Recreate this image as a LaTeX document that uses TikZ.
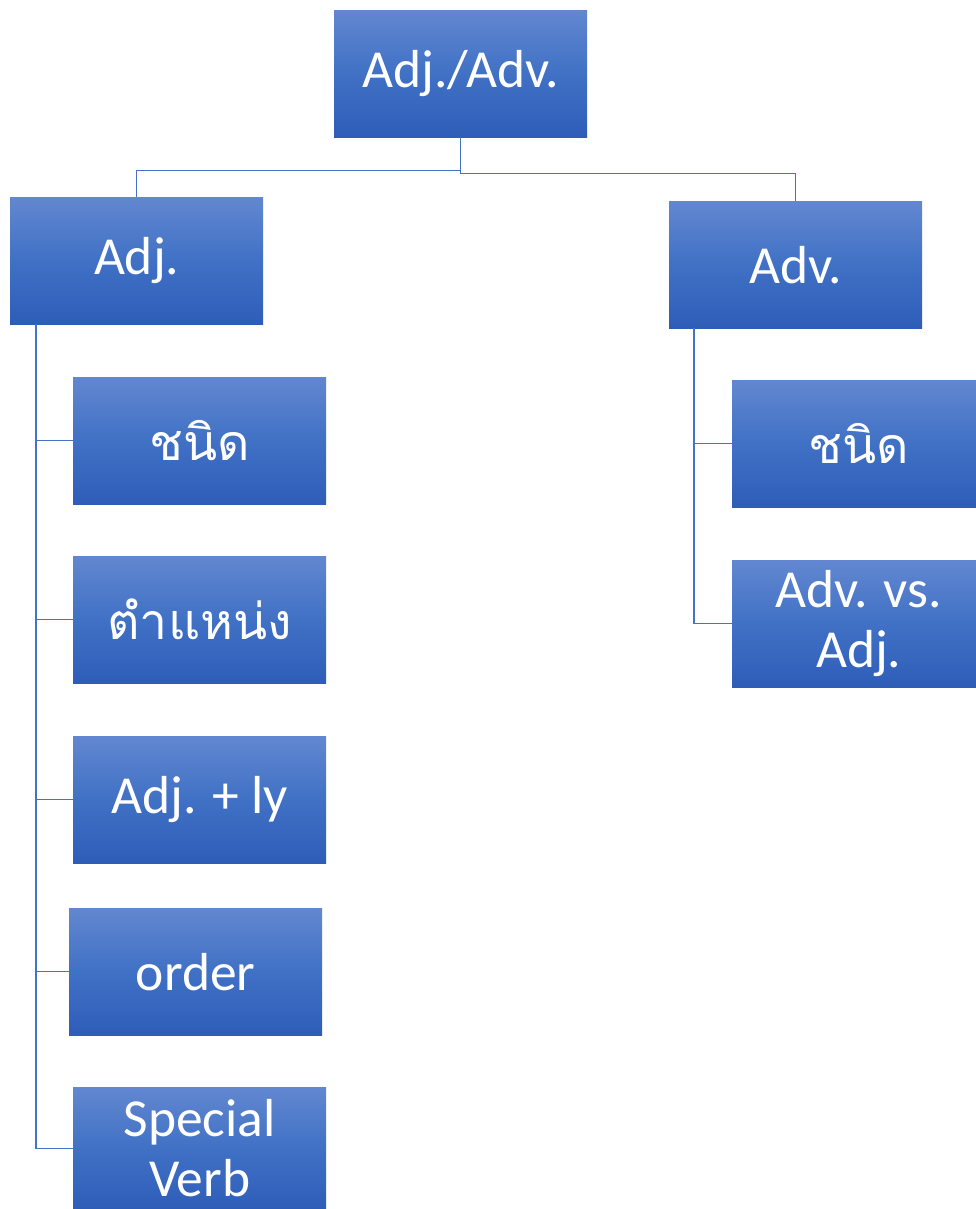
\documentclass[tikz,border=0pt]{standalone}
\usepackage{fontspec}
\setmainfont{Carlito}
\newfontfamily\thaifont[Script=Thai]{Loma}
\usetikzlibrary{calc}
\definecolor{boxtop}{RGB}{98,135,208}
\definecolor{boxmid}{RGB}{64,113,197}
\definecolor{boxbot}{RGB}{46,93,184}
\definecolor{linec}{RGB}{68,114,196}
\begin{document}
\begin{tikzpicture}[x=1pt,y=-1pt,
  box/.style={rectangle, anchor=north west, inner sep=0pt,
    minimum width=253pt, minimum height=127pt,
    top color=boxtop, bottom color=boxbot, middle color=boxmid,
    text=white, align=center, font=\fontsize{53.5}{62}\selectfont},
  thai/.style={font=\thaifont\fontsize{50}{60}\selectfont},
  conn/.style={draw=linec, line width=1.3pt}]
\useasboundingbox (0,0) rectangle (976,1209);
\clip (0,0) rectangle (976,1209);
\node[box] (root) at (334,10) {Adj./Adv.};
\node[box] (adj) at (10,197) {Adj.};
\node[box] (adv) at (669,201) {Adv.};
\node[box,thai] (a1) at (73,377) {ชนิด};
\node[box,thai] (a2) at (73,556) {ตำแหน่ง};
\node[box] (a3) at (73,736) {Adj. + ly};
\node[box] (a4) at (69,908) {order};
\node[box,minimum height=122pt] (a5) at (73,1087) {Special\\[-2pt]Verb};
\node[box,thai] (b1) at (732,380) {ชนิด};
\node[box] (b2) at (732,560) {Adv. vs.\\[-2pt]Adj.};
\draw[conn] (root.south) -- ++(0,33) -| (adj.north);
\draw[conn] (root.south) -- ++(0,36) -| (adv.north);
\coordinate (ajv) at ($(adj.south west)+(26,0)$);
\coordinate (avv) at ($(adv.south west)+(25,0)$);
\draw[conn] (ajv) |- (a5.west);
\foreach \c in {a1,a2,a3,a4} \draw[conn] (ajv) |- (\c.west);
\draw[conn] (avv) |- (b2.west);
\draw[conn] (avv) |- (b1.west);
\end{tikzpicture}
\end{document}
